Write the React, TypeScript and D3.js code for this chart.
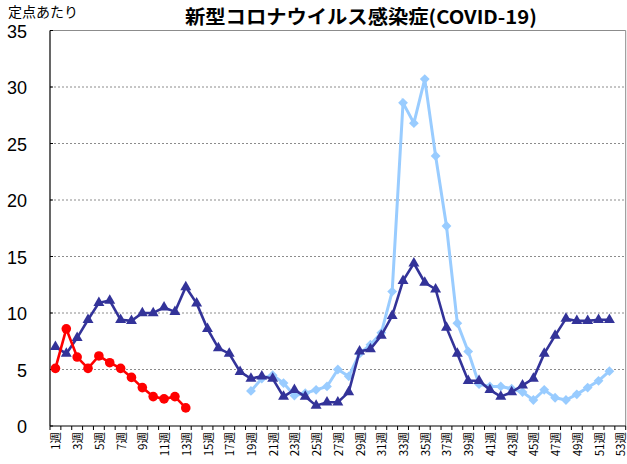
import React from "react";
import * as d3 from "d3";

const weeks: string[] = d3.range(1, 54).map((w) => `${w}週`);
const yTicks: number[] = [0, 5, 10, 15, 20, 25, 30, 35];

// light blue diamonds, weeks 19-52
const lightStart = 19;
const lightBlue: number[] = [
  3.1, 4.2, 4.5, 3.8, 2.7, 2.9, 3.2, 3.5, 5.0, 4.4,
  6.4, 7.2, 8.25, 11.9, 28.6, 26.8, 30.7, 23.9, 17.7, 9.1,
  6.6, 3.7, 3.5, 3.5, 3.3, 3.0, 2.3, 3.2, 2.5, 2.3,
  2.8, 3.4, 4.0, 4.85,
];
// navy triangles, weeks 1-52
const navy: number[] = [
  7.0, 6.4, 7.8, 9.4, 10.9, 11.1, 9.4, 9.3, 10.0, 10.0,
  10.5, 10.1, 12.3, 10.85, 8.6, 6.9, 6.4, 4.8, 4.2, 4.4,
  4.2, 2.6, 3.2, 2.6, 1.8, 2.1, 2.1, 3.0, 6.6, 6.8,
  8.0, 9.75, 12.85, 14.4, 12.7, 12.1, 8.7, 6.4, 4.0, 4.0,
  3.2, 2.6, 3.0, 3.6, 4.2, 6.4, 8.0, 9.5, 9.3, 9.3,
  9.4, 9.4,
];
// red circles, weeks 1-13
const red: number[] = [5.1, 8.6, 6.1, 5.1, 6.2, 5.6, 5.1, 4.3, 3.4, 2.6, 2.4, 2.6, 1.6];

const W = 627;
const H = 464;
const L = 50;
const R = 625.7;
const T = 30.5;
const B = 426;

export default function App() {
  const x = d3.scaleBand<string>().domain(weeks).range([L, R]).padding(0);
  const y = d3.scaleLinear().domain([0, 35]).range([B, T]);
  const cx = (i: number) => (x(weeks[i]) as number) + x.bandwidth() / 2;

  const mk = (vals: number[], start: number) =>
    vals.map((v, i) => ({ i: start - 1 + i, v }));

  const lightPts = mk(lightBlue, lightStart);
  const navyPts = mk(navy, 1);
  const redPts = mk(red, 1);

  const line = d3
    .line<{ i: number; v: number }>()
    .x((d) => cx(d.i))
    .y((d) => y(d.v));

  const tri = d3.symbol().type(d3.symbolTriangle).size(52)() as string;
  const sq = d3.symbol().type(d3.symbolSquare).size(48)() as string;

  const boundaries = d3.range(0, 54).map((k) => L + k * x.bandwidth());

  return (
    <svg
      width={W}
      height={H}
      style={{ position: "absolute", left: 0, top: 0, background: "#fff" }}
      fontFamily="'Liberation Sans', Arial, sans-serif"
    >
      <rect x={0} y={0} width={W} height={H} fill="#fff" />
      {yTicks
        .filter((t) => t > 0 && t < 35)
        .map((t) => (
          <line
            key={t}
            x1={L}
            x2={R}
            y1={y(t)}
            y2={y(t)}
            stroke="#8c8c8c"
            strokeWidth={1}
            strokeDasharray="2,2"
          />
        ))}
      <line x1={L} x2={R} y1={y(35)} y2={y(35)} stroke="#8c8c8c" strokeWidth={1} />
      <line x1={R} x2={R} y1={y(35)} y2={B} stroke="#8c8c8c" strokeWidth={1} />
      <line x1={L} x2={L} y1={y(35)} y2={B} stroke="#000" strokeWidth={1.2} />
      <line x1={L} x2={R} y1={B} y2={B} stroke="#000" strokeWidth={1.2} />
      {yTicks.map((t) => (
        <line key={"yt" + t} x1={L} x2={L + 3} y1={y(t)} y2={y(t)} stroke="#000" />
      ))}
      {boundaries.map((bx, k) => (
        <line key={"xt" + k} x1={bx} x2={bx} y1={B} y2={B + 4} stroke="#000" />
      ))}
      {yTicks.map((t) => (
        <text
          key={"yl" + t}
          x={27}
          y={y(t) + 1}
          textAnchor="end"
          dominantBaseline="central"
          fontSize={18}
          fill="#000"
        >
          {t}
        </text>
      ))}
      {weeks.map((w, i) =>
        i % 2 === 0 ? (
          <text
            key={"xl" + i}
            transform={`translate(${cx(i)},${B + 6}) rotate(-90)`}
            textAnchor="end"
            dominantBaseline="central"
            fontSize={11.5}
            fontFamily="'Noto Sans CJK JP', sans-serif"
            fill="#000"
          >
            {w}
          </text>
        ) : null
      )}
      <path d={line(lightPts) as string} fill="none" stroke="#99CCFF" strokeWidth={3} />
      {lightPts.map((d) => (
        <path
          key={"lb" + d.i}
          d={sq}
          transform={`translate(${cx(d.i)},${y(d.v)}) rotate(45)`}
          fill="#99CCFF"
        />
      ))}
      <path d={line(navyPts) as string} fill="none" stroke="#333399" strokeWidth={2.6} />
      {navyPts.map((d) => (
        <path
          key={"nv" + d.i}
          d={tri}
          transform={`translate(${cx(d.i)},${y(d.v)})`}
          fill="#333399"
        />
      ))}
      <path d={line(redPts) as string} fill="none" stroke="#FF0000" strokeWidth={2.6} />
      {redPts.map((d) => (
        <circle key={"rd" + d.i} cx={cx(d.i)} cy={y(d.v)} r={4.8} fill="#FF0000" />
      ))}
      <text
        x={8}
        y={17}
        fontSize={14}
        fontFamily="'Noto Sans CJK JP', sans-serif"
        fill="#000"
      >
        定点あたり
      </text>
      <text
        x={185}
        y={24}
        fontSize={19}
        fontWeight="bold"
        fontFamily="'Noto Sans CJK JP', sans-serif"
        textLength={352}
        lengthAdjust="spacingAndGlyphs"
        fill="#000"
      >
        新型コロナウイルス感染症(COVID-19)
      </text>
    </svg>
  );
}
